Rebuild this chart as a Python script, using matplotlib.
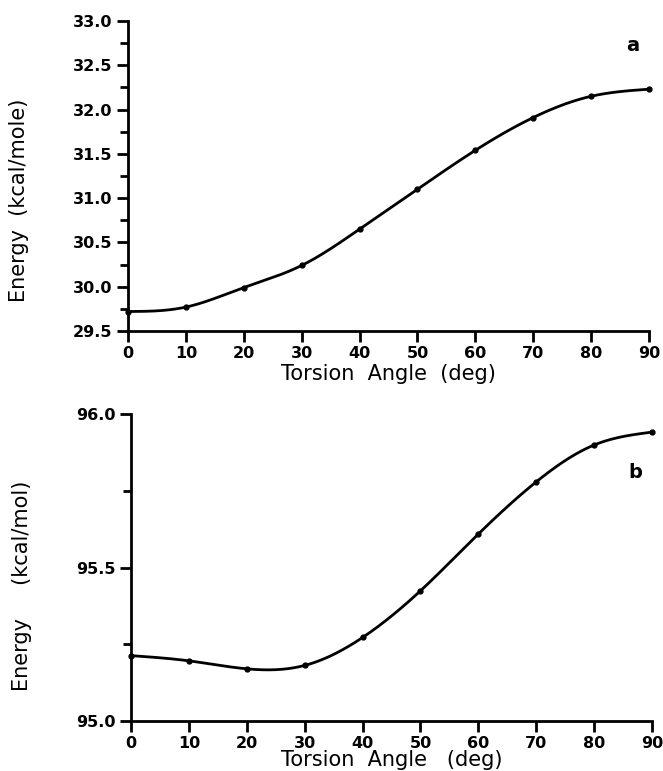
import numpy as np
import matplotlib
matplotlib.use("Agg")
import matplotlib.pyplot as plt
from matplotlib.ticker import MultipleLocator

# ---- data ----
angles = [0, 10, 20, 30, 40, 50, 60, 70, 80, 90]
energy_a = [29.72, 29.77, 29.99, 30.24, 30.65, 31.10, 31.54, 31.91, 32.15, 32.23]
energy_b = [95.213, 95.196, 95.170, 95.181, 95.272, 95.424, 95.609, 95.779, 95.899, 95.941]
xticks = [0, 10, 20, 30, 40, 50, 60, 70, 80, 90]
yticks_a = [29.5, 30.0, 30.5, 31.0, 31.5, 32.0, 32.5, 33.0]
yticks_b = [95.0, 95.5, 96.0]


def natural_spline(x, y, xs):
    x = np.asarray(x, float); y = np.asarray(y, float)
    n = len(x)
    h = np.diff(x)
    A = np.zeros((n, n)); r = np.zeros(n)
    A[0, 0] = 1; A[-1, -1] = 1
    for i in range(1, n - 1):
        A[i, i - 1] = h[i - 1]
        A[i, i] = 2 * (h[i - 1] + h[i])
        A[i, i + 1] = h[i]
        r[i] = 3 * ((y[i + 1] - y[i]) / h[i] - (y[i] - y[i - 1]) / h[i - 1])
    c = np.linalg.solve(A, r)
    b = (y[1:] - y[:-1]) / h - h * (2 * c[:-1] + c[1:]) / 3
    d = (c[1:] - c[:-1]) / (3 * h)
    idx = np.clip(np.searchsorted(x, xs) - 1, 0, n - 2)
    t = xs - x[idx]
    return y[idx] + b[idx] * t + c[idx] * t ** 2 + d[idx] * t ** 3


W, H = 663, 771
fig = plt.figure(figsize=(W / 100, H / 100), dpi=100)

label_font = dict(family="DejaVu Sans", size=15)
tick_font = dict(family="DejaVu Sans", size=11.5, weight="bold")


def panel(rect, y, yticks, ylim, yminor, ylabel, ylabel_xy, xlabel, xlabel_pad, tag, tag_xy):
    ax = fig.add_axes(rect)
    xs = np.linspace(angles[0], angles[-1], 400)
    ax.plot(xs, natural_spline(angles, y, xs), color="black", lw=2.0,
            solid_capstyle="round", clip_on=False)
    ax.plot(angles, y, "o", color="black", ms=3.5, clip_on=False)
    ax.set_xlim(0, 90)
    ax.set_ylim(*ylim)
    ax.set_xticks(xticks)
    ax.set_yticks(yticks)
    ax.yaxis.set_minor_locator(MultipleLocator(yminor))
    ax.set_xticklabels([str(v) for v in xticks], **tick_font)
    ax.set_yticklabels([f"{v:.1f}" for v in yticks], **tick_font)
    for s in ("top", "right"):
        ax.spines[s].set_visible(False)
    for s in ("left", "bottom"):
        ax.spines[s].set_linewidth(2.0)
        ax.spines[s].set_capstyle("projecting")
    ax.tick_params(axis="both", which="major", direction="out", length=8, width=2, pad=3)
    ax.tick_params(axis="y", which="minor", direction="out", length=6, width=2)
    ax.set_xlabel(xlabel, **label_font, labelpad=xlabel_pad)
    ax.set_ylabel(ylabel, **label_font)
    ax.yaxis.set_label_coords(*ylabel_xy)
    ax.text(tag_xy[0], tag_xy[1], tag, fontsize=14, fontweight="bold", family="DejaVu Sans",
            ha="center", va="center")
    return ax


# top panel: x 128..649 px, y 21..331 px
panel([128 / W, 1 - 331 / H, (649 - 128) / W, (331 - 21) / H],
      energy_a, yticks_a, (29.5, 33.0), 0.25,
      "Energy  (kcal/mole)", (-0.19, 0.42), "Torsion  Angle  (deg)", 2, "a", (87.2, 32.72))

# bottom panel: x 131..652 px, y 414..721 px
panel([131 / W, 1 - 721 / H, (652 - 131) / W, (721 - 414) / H],
      energy_b, yticks_b, (95.0, 96.0), 0.25,
      "Energy     (kcal/mol)", (-0.19, 0.44), "Torsion  Angle   (deg)", -1, "b", (87.1, 95.81))

fig.savefig("out.png", dpi=100)
